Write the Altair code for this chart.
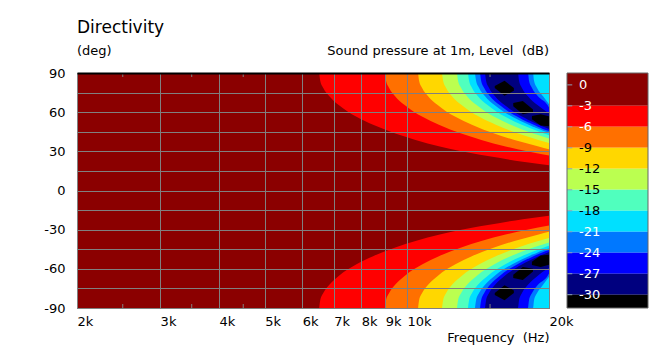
import altair as alt
import pandas as pd

FONT = "DejaVu Sans"

# ---------------- data ----------------
LEVELS = [-3, -6, -9, -12, -15, -18, -21, -24, -27, -30]
BAND_COLORS = ["#ff0000", "#ff7000", "#ffd700", "#bbff50", "#50ffbe",
               "#00e0ff", "#0078ff", "#0000ff", "#00007f", "#000000"]
TOP_COLOR = "#8b0000"

X_TICKS = [2000, 3000, 4000, 5000, 6000, 7000, 8000, 9000, 10000, 20000]
X_MINOR = [2500, 3500, 4500, 15000]
Y_TICKS = [-90, -75, -60, -45, -30, -15, 0, 15, 30, 45, 60, 75, 90]

BAR_LABELS = [0, -3, -6, -9, -12, -15, -18, -21, -24, -27, -30]
BAR_EDGES = [1.7, -3, -6, -9, -12, -15, -18, -21, -24, -27, -30, -31.9]

# contour boundaries of the upper lobe
# frequency (kHz), lower angle (deg), upper angle (deg; None = 90)
B3_F = [6.52, 6.55, 6.65, 6.85, 7.17, 7.50, 7.82, 8.48, 9.45, 10.43, 11.74, 13.04, 15.65, 17.6, 20.0]
B3_LO = [90, 84.3, 78.6, 72.2, 65.4, 60.4, 56.4, 50.3, 43.6, 38.7, 33.7, 30.0, 25.0, 22.0, 19.3]

B6_F = [8.99, 9.03, 9.17, 9.44, 9.89, 10.34, 10.79, 11.69, 13.04, 14.38, 16.18, 17.98, 20.0]
B6_LO = [90, 84.3, 78.6, 72.2, 65.4, 60.4, 56.4, 50.3, 43.6, 38.7, 33.7, 30.0, 26.8]

B9_F = [10.56, 10.61, 10.77, 11.09, 11.62, 12.14, 12.67, 13.73, 15.31, 16.90, 19.01, 20.0]
B9_LO = [90, 84.3, 78.6, 72.2, 65.4, 60.4, 56.4, 50.3, 43.6, 38.7, 33.7, 31.6]

B12_F = [11.87, 11.93, 12.11, 12.46, 13.06, 13.65, 14.24, 15.43, 17.21, 18.99, 20.0]
B12_LO = [90, 84.3, 78.6, 72.2, 65.4, 60.4, 56.4, 50.3, 43.6, 38.7, 36.3]

B15_F = [12.77, 12.83, 13.03, 13.41, 14.05, 14.69, 15.32, 16.60, 18.52, 20.0]
B15_LO = [90, 84.3, 78.6, 72.2, 65.4, 60.4, 56.4, 50.3, 43.6, 39.8]

B18_F = [13.47, 13.54, 13.74, 14.14, 14.82, 15.49, 16.16, 17.51, 19.53, 20.0]
B18_LO = [90, 84.3, 78.6, 72.2, 65.4, 60.4, 56.4, 50.3, 43.6, 42.3]

B21_F = [13.94, 14.01, 14.22, 14.64, 15.33, 16.03, 16.73, 18.12, 18.50, 18.59, 18.87, 19.43, 20.0]
B21_LO = [90, 84.3, 78.6, 72.2, 65.4, 60.4, 56.4, 50.3, 48.9, 48.6, 47.6, 45.8, 44.5]
B21_HI = [90, 90, 90, 90, 90, 90, 90, 90, 90, 84.3, 78.6, 72.2, 66.0]

B24_F = [14.29, 14.36, 14.58, 15.00, 15.72, 16.43, 17.15, 18.05, 18.14, 18.41, 18.95, 19.86, 20.0]
B24_LO = [90, 84.3, 78.6, 72.2, 65.4, 60.4, 56.4, 52.3, 52.0, 50.9, 48.9, 46.0, 45.8]
B24_HI = [90, 90, 90, 90, 90, 90, 90, 90, 84.3, 78.6, 72.2, 65.4, 63.5]

B27_F = [14.64, 14.71, 14.93, 15.37, 16.10, 16.84, 17.19, 17.28, 17.53, 18.05, 18.91, 19.77, 20.0]
B27_LO = [90, 84.3, 78.6, 72.2, 65.4, 60.4, 58.4, 57.9, 56.6, 54.2, 50.7, 47.8, 47.1]
B27_HI = [90, 90, 90, 90, 90, 90, 90, 84.3, 78.6, 72.2, 65.4, 60.4, 59.3]

# black spots along the null
N_A_F = [15.35, 16.1, 16.85]
N_A_LO = [78.5, 72.5, 76.5]
N_A_HI = [80.0, 84.0, 78.5]
N_B_F = [16.8, 17.6, 18.5]
N_B_LO = [64.5, 58.5, 60.0]
N_B_HI = [67.0, 68.5, 62.0]
N_C_F = [18.4, 19.2, 20.0]
N_C_LO = [54.5, 49.8, 49.3]
N_C_HI = [57.0, 58.5, 56.8]

BOUNDS = {
    -3: [(B3_F, B3_LO, None)],
    -6: [(B6_F, B6_LO, None)],
    -9: [(B9_F, B9_LO, None)],
    -12: [(B12_F, B12_LO, None)],
    -15: [(B15_F, B15_LO, None)],
    -18: [(B18_F, B18_LO, None)],
    -21: [(B21_F, B21_LO, B21_HI)],
    -24: [(B24_F, B24_LO, B24_HI)],
    -27: [(B27_F, B27_LO, B27_HI)],
    -30: [(N_A_F, N_A_LO, N_A_HI), (N_B_F, N_B_LO, N_B_HI), (N_C_F, N_C_LO, N_C_HI)],
}

rows = []
for lev, segs in BOUNDS.items():
    for s, (F, LO, HI) in enumerate(segs):
        if HI is None:
            HI = [90] * len(F)
        for f, lo, hi in zip(F, LO, HI):
            rows.append(dict(level=lev, part=f"{s}u", f=f * 1000, lo=lo, hi=hi))
            rows.append(dict(level=lev, part=f"{s}l", f=f * 1000, lo=-hi, hi=-lo))
contours = pd.DataFrame(rows)

# ---------------- main plot ----------------
GRID = "#808080"
X = alt.X(
    "f:Q",
    scale=alt.Scale(type="log", domain=[2000, 20000], nice=False),
    axis=alt.Axis(
        values=X_TICKS, labelExpr="datum.value / 1000 + 'k'",
        labelAlign="left", labelFlush=False, labelOverlap=False,
        labelPadding=7, ticks=False, domain=False,
        grid=True, gridColor=GRID, gridWidth=1, zindex=1,
        labelFont=FONT, labelFontSize=13, labelColor="black",
        title="Frequency \u00a0(Hz)", titleFont=FONT, titleFontSize=13,
        titleFontWeight="normal", titleColor="black",
        titleAnchor="end", titlePadding=3,
    ),
)
Y = alt.Y(
    "lo:Q",
    scale=alt.Scale(domain=[-90, 90], nice=False, zero=False),
    axis=alt.Axis(
        values=Y_TICKS,
        labelExpr="datum.value % 30 == 0 ? '' + datum.value : ''",
        labelPadding=12, ticks=False, domain=False,
        grid=True,
        gridColor={"condition": {"test": "datum.value == 90", "value": "black"}, "value": GRID},
        gridWidth={"condition": {"test": "datum.value == 90", "value": 2}, "value": 1},
        zindex=1,
        labelFont=FONT, labelFontSize=13, labelColor="black",
        title=None,
    ),
)

layers = []
for lev, col in zip(LEVELS, BAND_COLORS):
    layers.append(
        alt.Chart(contours)
        .transform_filter(alt.datum.level == lev)
        .mark_area(color=col, clip=True,
                   interpolate="linear" if lev == -30 else "monotone")
        .encode(x=X, y=Y, y2="hi:Q", detail="part:N")
    )

minor_df = pd.DataFrame({"f": X_MINOR * 2, "lo": [90] * len(X_MINOR) + [-90] * len(X_MINOR)})
layers.append(
    alt.Chart(minor_df)
    .mark_tick(orient="vertical", size=8, thickness=1, color=GRID, clip=True, opacity=1)
    .encode(x=X, y=Y)
)

left_df = pd.DataFrame({"f": [2000], "lo": [90]})
right_df = pd.DataFrame({"f": [20000], "lo": [90]})
layers.append(
    alt.Chart(left_df).mark_text(text="Directivity", align="left", baseline="middle",
                                 dy=-45, font=FONT, fontSize=17, color="black")
    .encode(x=X, y=Y)
)
layers.append(
    alt.Chart(left_df).mark_text(text="(deg)", align="left", baseline="middle",
                                 dy=-22, font=FONT, fontSize=13, color="black")
    .encode(x=X, y=Y)
)
layers.append(
    alt.Chart(right_df).mark_text(text="Sound pressure at 1m, Level \u00a0(dB)",
                                  align="right", baseline="middle",
                                  dy=-22, font=FONT, fontSize=13, color="black")
    .encode(x=X, y=Y)
)
main = alt.layer(*layers)

# ---------------- colour bar ----------------
bar_df = pd.DataFrame({"top": BAR_EDGES[:-1], "bottom": BAR_EDGES[1:],
                       "col": [TOP_COLOR] + BAND_COLORS})
lab_df = pd.DataFrame({"v": BAR_LABELS, "txt": [str(v) for v in BAR_LABELS]})

BAR_X_SCALE = alt.Scale(domain=[0, 1], range=[490, 571])
BAR_Y_SCALE = alt.Scale(domain=[BAR_EDGES[-1], BAR_EDGES[0]], nice=False, zero=False)
XB = alt.XDatum(0, scale=BAR_X_SCALE, axis=None)

rects = alt.Chart(bar_df).mark_rect().encode(
    x=XB, x2=alt.X2Datum(1),
    y=alt.Y("top:Q", scale=BAR_Y_SCALE, axis=None), y2="bottom:Q",
    color=alt.Color("col:N", scale=None),
)
bar_ticks = alt.Chart(lab_df).mark_rule(color="#8aa0b8", strokeWidth=1).encode(
    x=XB, x2=alt.X2Datum(0.065),
    y=alt.Y("v:Q", scale=BAR_Y_SCALE, axis=None),
)
bar_labels = alt.Chart(lab_df).mark_text(align="left", baseline="middle", dx=12,
                                         font=FONT, fontSize=13).encode(
    x=XB,
    y=alt.Y("v:Q", scale=BAR_Y_SCALE, axis=None),
    text="txt:N",
    color=alt.condition("datum.v > -7 || datum.v < -20", alt.value("white"), alt.value("black")),
)
border = alt.Chart(bar_df).mark_rect(fillOpacity=0, stroke="#666666", strokeWidth=1).encode(
    x=XB, x2=alt.X2Datum(1),
    y=alt.Y("max(top):Q", scale=BAR_Y_SCALE, axis=None),
    y2=alt.Y2("min(bottom):Q"),
)
bar = alt.layer(rects, bar_ticks, bar_labels, border)

chart = (
    alt.layer(main, bar)
    .resolve_scale(x="independent", y="independent")
    .properties(
        width=472, height=235,
        autosize=alt.AutoSizeParams(type="none"),
        padding={"left": 77, "top": 73, "right": 117, "bottom": 43},
        background="white",
    )
    .configure_view(fill=TOP_COLOR, stroke="#666666", strokeWidth=1)
)

chart.save("out.html", embed_options={"renderer": "svg", "actions": False})
